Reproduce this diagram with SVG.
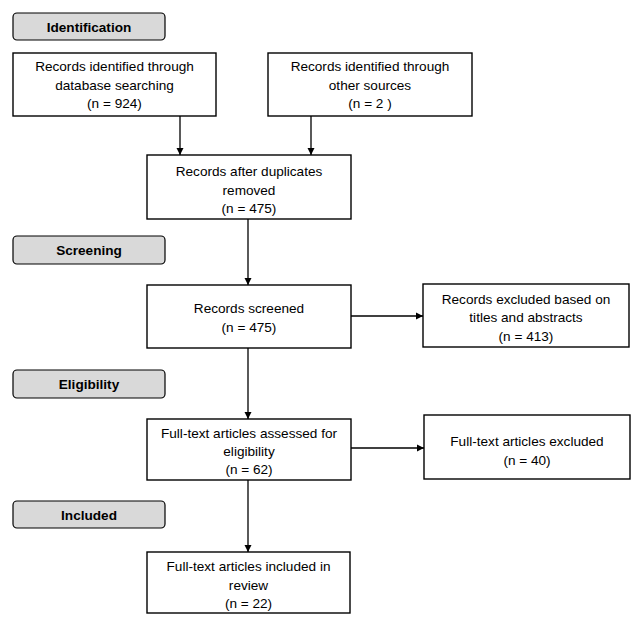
<svg xmlns="http://www.w3.org/2000/svg" width="640" height="627" viewBox="0 0 640 627">
<style>
.box{fill:#fff;stroke:#000;stroke-width:1.4}
.lab{fill:#d9d9d9;stroke:#000;stroke-width:1.2}
text{font-family:"Liberation Sans",Arial,sans-serif;font-size:13.6px;fill:#000;text-anchor:middle}
.b{font-weight:bold}
.c{stroke:#000;stroke-width:1.3;fill:none;marker-end:url(#ah)}
</style>
<defs>
<marker id="ah" markerWidth="8" markerHeight="8" refX="7" refY="4" orient="auto" markerUnits="userSpaceOnUse">
<path d="M0,0.5 L7,4 L0,7.5 z" fill="#000"/>
</marker>
</defs>
<rect width="640" height="627" fill="#fff"/>
<g id="lab-identification"><rect class="lab" x="13" y="13" width="152" height="27" rx="4"/><text class="b" x="89" y="31.5">Identification</text></g>
<g id="lab-screening"><rect class="lab" x="13" y="236" width="152" height="28" rx="4"/><text class="b" x="89" y="254.5">Screening</text></g>
<g id="lab-eligibility"><rect class="lab" x="13" y="370" width="152" height="28" rx="4"/><text class="b" x="89" y="388.5">Eligibility</text></g>
<g id="lab-included"><rect class="lab" x="13" y="501" width="152" height="27" rx="4"/><text class="b" x="89" y="519.5">Included</text></g>

<g id="n-db"><rect class="box" x="13" y="53" width="203" height="63"/>
<text x="114.5" y="70.5">Records identified through</text><text x="114.5" y="89.5">database searching</text><text x="114.5" y="107.5">(n = 924)</text></g>
<g id="n-other"><rect class="box" x="268" y="53" width="204" height="63"/>
<text x="370" y="70.5">Records identified through</text><text x="370" y="89.5">other sources</text><text x="370" y="107.5">(n = 2 )</text></g>
<g id="n-dup"><rect class="box" x="147" y="155" width="204" height="64"/>
<text x="249" y="175.5">Records after duplicates</text><text x="249" y="194.5">removed</text><text x="249" y="212.5">(n = 475)</text></g>
<g id="n-screened"><rect class="box" x="147" y="285" width="204" height="63"/>
<text x="249" y="312.5">Records screened</text><text x="249" y="331.5">(n = 475)</text></g>
<g id="n-excl1"><rect class="box" x="423" y="284" width="206" height="63"/>
<text x="526" y="303.5">Records excluded based on</text><text x="526" y="321.5">titles and abstracts</text><text x="526" y="340.5">(n = 413)</text></g>
<g id="n-assessed"><rect class="box" x="147" y="419" width="204" height="61"/>
<text x="249" y="437.5">Full-text articles assessed for</text><text x="249" y="455.5">eligibility</text><text x="249" y="473.5">(n = 62)</text></g>
<g id="n-excl2"><rect class="box" x="424" y="415" width="206" height="64"/>
<text x="527" y="445.5">Full-text articles excluded</text><text x="527" y="464.5">(n = 40)</text></g>
<g id="n-incl"><rect class="box" x="147" y="552" width="203" height="61"/>
<text x="248.5" y="570.5">Full-text articles included in</text><text x="248.5" y="589.5">review</text><text x="248.5" y="607.5">(n = 22)</text></g>

<g id="connectors">
<path class="c" d="M180,116 V155"/>
<path class="c" d="M311,116 V155"/>
<path class="c" d="M248,219 V285"/>
<path class="c" d="M248,348 V419"/>
<path class="c" d="M248,480 V552"/>
<path class="c" d="M351,316 H423"/>
<path class="c" d="M351,448 H424"/>
</g>
</svg>
